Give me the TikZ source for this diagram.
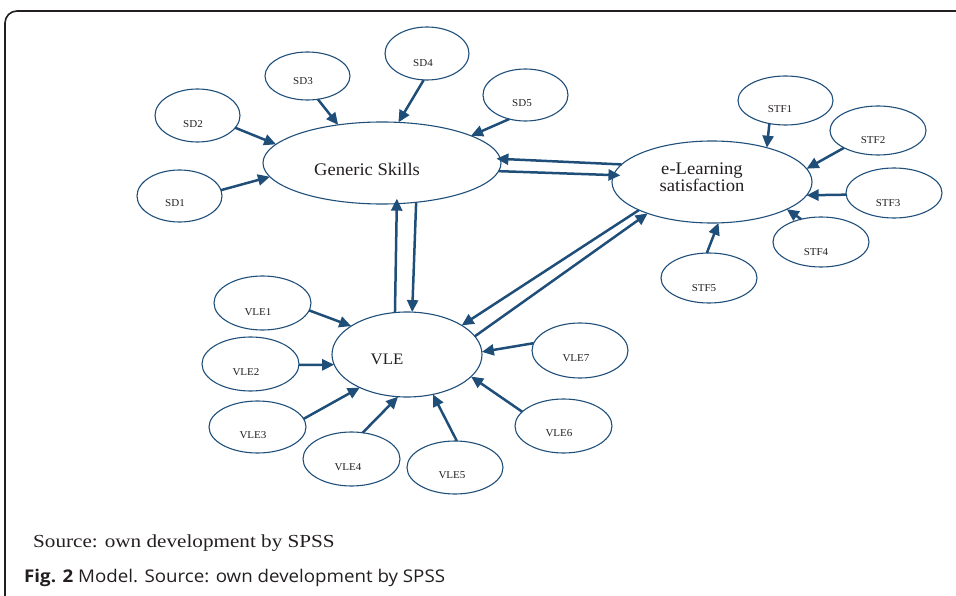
\documentclass[tikz,border=0pt]{standalone}
\usepackage{fontspec}
\setmainfont{Liberation Serif}[FakeStretch=1.05]
\newfontfamily\srcfont{Liberation Serif}[FakeStretch=1.15]
\newfontfamily\capfont{Open Sans}[FakeStretch=1.07]
\usetikzlibrary{shapes.geometric,arrows.meta}
\definecolor{nb}{RGB}{31,78,121}
\definecolor{txt}{RGB}{35,31,32}
\begin{document}
\begin{tikzpicture}[x=1pt,y=-1pt,
  ell/.style={draw=nb, line width=1.1pt, ellipse, inner sep=0pt, outer sep=0pt},
  lab/.style={font=\fontsize{10.5}{12}\selectfont, inner sep=0pt, text=txt},
  biglab/.style={font=\fontsize{17.7}{14.5}\selectfont, inner sep=0pt, text=txt, align=center},
  con/.style={draw=nb, line width=2.5pt, -{Triangle[length=12pt,width=11pt]}}]
\useasboundingbox (0,0) rectangle (956,596);
\draw[line width=1.6pt, txt, rounded corners=12pt] (5,600) -- (5,11) -- (960,11);
% ellipses
\node[ell, minimum width=85pt, minimum height=52pt] (sd1) at (179.5,196) {};
\node[ell, minimum width=85pt, minimum height=53pt] (sd2) at (197.5,115.5) {};
\node[ell, minimum width=85pt, minimum height=48pt] (sd3) at (307.5,76) {};
\node[ell, minimum width=84pt, minimum height=53pt] (sd4) at (427,53.5) {};
\node[ell, minimum width=85pt, minimum height=52pt] (sd5) at (525.5,95) {};
\node[ell, minimum width=238pt, minimum height=82pt] (gs) at (382,163) {};
\node[ell, minimum width=200pt, minimum height=82pt] (el) at (712,182) {};
\node[ell, minimum width=95pt, minimum height=49pt] (stf1) at (785.5,100.5) {};
\node[ell, minimum width=96pt, minimum height=49pt] (stf2) at (878,130.5) {};
\node[ell, minimum width=96pt, minimum height=50pt] (stf3) at (894,193) {};
\node[ell, minimum width=96pt, minimum height=50pt] (stf4) at (821,242) {};
\node[ell, minimum width=96pt, minimum height=50pt] (stf5) at (709,278) {};
\node[ell, minimum width=150pt, minimum height=85pt] (vle) at (407,354.5) {};
\node[ell, minimum width=97pt, minimum height=54pt] (vle1) at (262.5,303) {};
\node[ell, minimum width=97pt, minimum height=54pt] (vle2) at (250.5,364) {};
\node[ell, minimum width=97pt, minimum height=52pt] (vle3) at (257.5,427) {};
\node[ell, minimum width=97pt, minimum height=54pt] (vle4) at (351.5,459) {};
\node[ell, minimum width=96pt, minimum height=53pt] (vle5) at (455,467.5) {};
\node[ell, minimum width=97pt, minimum height=54pt] (vle6) at (563.5,426) {};
\node[ell, minimum width=96pt, minimum height=55pt] (vle7) at (580,350.5) {};
% labels
\node[lab] (tsd1) at (175,203) {SD1};
\node[lab] (tsd2) at (193,124) {SD2};
\node[lab] (tsd3) at (303,81) {SD3};
\node[lab] (tsd4) at (423,63) {SD4};
\node[lab] (tsd5) at (522,103) {SD5};
\node[biglab] (tgs) at (367,169) {Generic Skills};
\node[biglab] (tel) at (702,177) {e-Learning\\satisfaction};
\node[lab] (tstf1) at (780,109) {STF1};
\node[lab] (tstf2) at (873,140) {STF2};
\node[lab] (tstf3) at (888,203) {STF3};
\node[lab] (tstf4) at (816,252) {STF4};
\node[lab] (tstf5) at (704,288) {STF5};
\node[biglab, font=\fontsize{16}{16}\selectfont] (tvle) at (387,359) {VLE};
\node[lab] (tvle1) at (258,312) {VLE1};
\node[lab] (tvle2) at (246,372) {VLE2};
\node[lab] (tvle3) at (253,435) {VLE3};
\node[lab] (tvle4) at (348,467) {VLE4};
\node[lab] (tvle5) at (452,475) {VLE5};
\node[lab] (tvle6) at (559,433) {VLE6};
\node[lab] (tvle7) at (576,358) {VLE7};
% connectors
\draw[con] (sd1.8) -- (gs.187);
\draw[con] (sd2.-18) -- (gs.170);
\draw[con] (sd3.-66) -- (gs.139);
\draw[con] (sd4.-97) -- (gs.68);
\draw[con] (sd5.-124) -- (gs.17);
\draw[con, shorten >=-4pt] (el.169) -- (gs.2);
\draw[con, shorten >=-7pt] (gs.-4) -- (el.176);
\draw[con, shorten >=-5pt] (vle.106) -- (gs.-70);
\draw[con] (gs.-49) -- (vle.83);
\draw[con] (el.201) -- (vle.28);
\draw[con] (vle.15) -- (el.206);
\draw[con] (stf1.-125) -- (el.32);
\draw[con] (stf2.207) -- (el.8);
\draw[con] (stf3.182) -- (el.-8);
\draw[con] (stf4.131) -- (el.-20);
\draw[con] (stf5.95) -- (el.-81);
\draw[con] (vle1.-9) -- (vle.153);
\draw[con] (vle2.-1) -- (vle.188);
\draw[con] (vle3.10) -- (vle.215);
\draw[con] (vle4.67) -- (vle.258);
\draw[con] (vle5.86) -- (vle.-57);
\draw[con] (vle6.161) -- (vle.-19);
\draw[con] (vle7.171) -- (vle.2);
% captions
\node[anchor=west, inner sep=0pt, text=txt, font=\srcfont\fontsize{18.4}{20}\selectfont] (src) at (33,543) {Source: own development by SPSS};
\node[anchor=west, inner sep=0pt, text=txt, font=\capfont\fontsize{17.5}{18}\selectfont] (fig) at (24,578) {\textbf{Fig. 2} Model. Source: own development by SPSS};
\end{tikzpicture}
\end{document}
